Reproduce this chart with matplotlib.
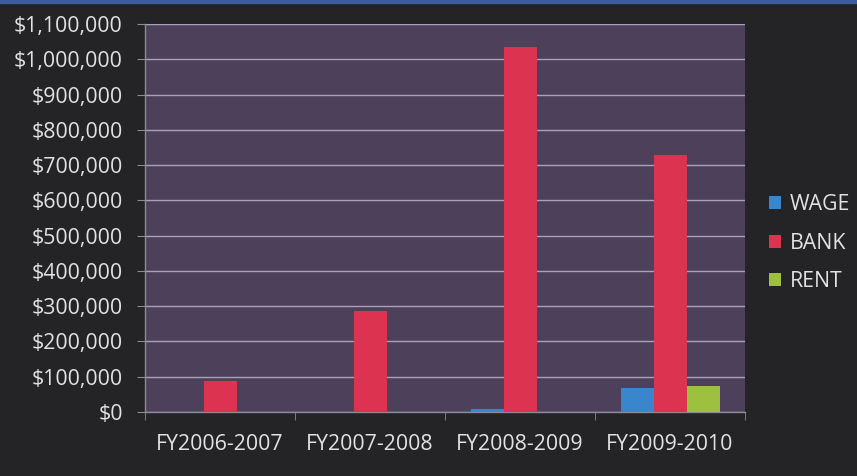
import matplotlib
matplotlib.use("Agg")
import matplotlib.pyplot as plt
import numpy as np
from matplotlib.patches import Rectangle
from matplotlib.ticker import FuncFormatter, MultipleLocator

categories = ["FY2006-2007", "FY2007-2008", "FY2008-2009", "FY2009-2010"]
wage = [0, 0, 8000, 68000]
bank = [88000, 285000, 1036000, 728000]
rent = [0, 0, 0, 74000]
series_names = ["WAGE", "BANK", "RENT"]
colors = ["#3a86cc", "#dc3350", "#9dc13f"]

plt.rcParams['font.family'] = ['Open Sans', 'DejaVu Sans']

fig = plt.figure(figsize=(8.57, 4.76), dpi=100, facecolor="#242426")
fig.patches.append(Rectangle((0, 0.993), 1, 0.007, transform=fig.transFigure,
                             color="#3d5c9c", zorder=0))
ax = fig.add_axes([145/857, 1-412/476, 600/857, 388/476])
ax.set_facecolor("#4c405a")

x = np.arange(len(categories))
w = 0.22
for i, (vals, c) in enumerate(zip([wage, bank, rent], colors)):
    ax.bar(x + (i-1)*w, vals, width=w, color=c, label=series_names[i], zorder=3)

ax.set_xlim(-0.5, len(categories)-0.5)
ax.set_ylim(0, 1100000)
ax.yaxis.set_major_locator(MultipleLocator(100000))
ax.yaxis.set_major_formatter(FuncFormatter(lambda v, p: "${:,.0f}".format(v)))
ax.grid(axis='y', color="#a8a2b6", linewidth=1.0, zorder=1)
ax.set_axisbelow(True)

fs = 15.3
ax.set_xticks(x)
ax.set_xticklabels(categories)
ax.set_xticks(np.arange(-0.5, len(categories)), minor=True)
ax.tick_params(axis='x', which='major', length=0, pad=16, labelsize=fs, labelcolor="#e2e2e2")
ax.tick_params(axis='x', which='minor', length=6, color="#8a8a98", direction='out')
ax.tick_params(axis='y', length=6, color="#8a8a98", pad=10, labelsize=fs, labelcolor="#e2e2e2")

for s in ['top', 'right']:
    ax.spines[s].set_visible(False)
for s in ['left', 'bottom']:
    ax.spines[s].set_color("#8a8a98")
    ax.spines[s].set_linewidth(1.0)

leg = ax.legend(loc='center left', bbox_to_anchor=(1.008, 0.435), frameon=False,
                fontsize=fs, labelspacing=0.82, handlelength=0.55, handleheight=0.55,
                handletextpad=0.45)
for t in leg.get_texts():
    t.set_color("#e2e2e2")

fig.savefig("out.png", dpi=100, facecolor=fig.get_facecolor())
